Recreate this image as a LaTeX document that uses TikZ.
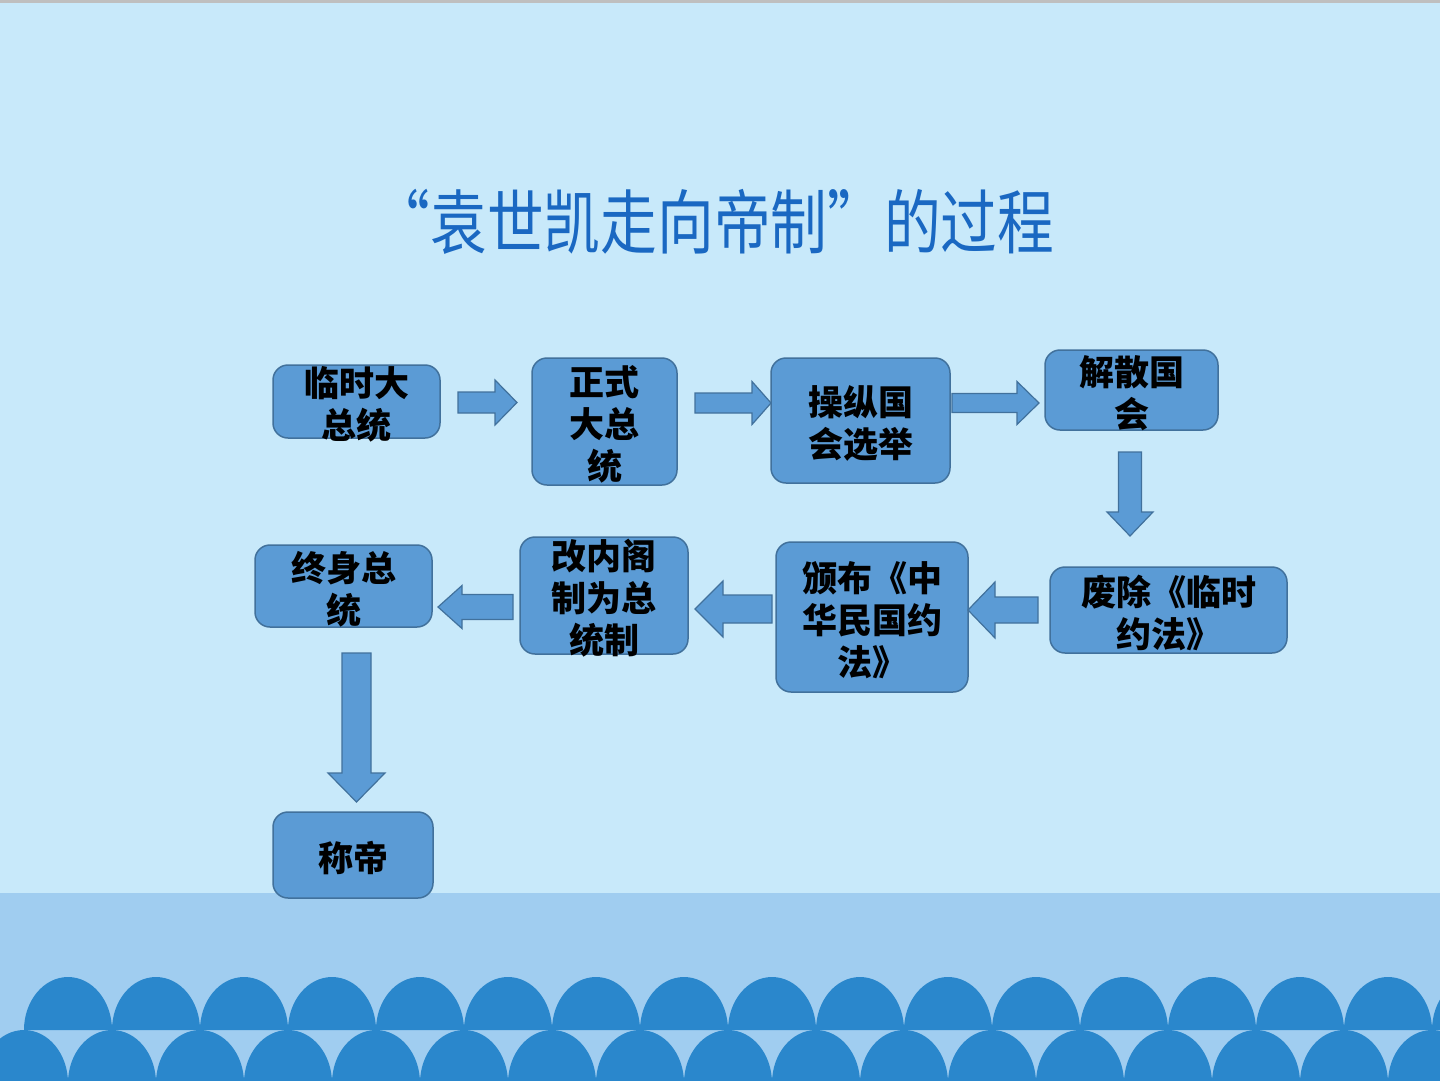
\documentclass[tikz,border=0pt]{standalone}
\usepackage{fontspec}
\newfontfamily\cjk{Noto Sans CJK SC}
\definecolor{bgtop}{HTML}{C8E9FA}
\definecolor{band}{HTML}{A0CDF0}
\definecolor{dome}{HTML}{2A87CC}
\definecolor{boxfill}{HTML}{5B9BD5}
\definecolor{boxline}{HTML}{41719C}
\definecolor{titleblue}{HTML}{1A68C2}
\tikzset{
  stepbox/.style={draw=boxline, fill=boxfill, line width=1.5pt, rounded corners=15pt, inner sep=0pt},
  boxtext/.style={align=center, inner sep=0pt, yshift=-3pt, font=\cjk\bfseries\fontsize{35}{42}\selectfont, text=black},
  blockarrow/.style={draw=boxline, fill=boxfill, line width=1.2pt, line join=miter},
}
\newcommand\blkH[6]{\draw[blockarrow] (#1,#4-#5) -- (#2,#4-#5) -- (#2,#4-#6) -- (#3,#4) -- (#2,#4+#6) -- (#2,#4+#5) -- (#1,#4+#5) -- cycle;}
\newcommand\blkV[6]{\draw[blockarrow] (#4-#5,#1) -- (#4-#5,#2) -- (#4-#6,#2) -- (#4,#3) -- (#4+#6,#2) -- (#4+#5,#2) -- (#4+#5,#1) -- cycle;}
\begin{document}
\begin{tikzpicture}[x=1pt,y=-1pt]
\useasboundingbox (0,0) rectangle (1440,1080);
% background
\fill[bgtop] (0,0) rectangle (1440,1080);
\fill[black!25] (0,0) rectangle (1440,2.5);
\fill[band] (0,893) rectangle (1440,1080);
% domes, upper row
\foreach \k in {0,...,16} {
  \fill[dome] ({68+88*\k-44},1030) arc[start angle=180, end angle=0, x radius=44pt, y radius=53pt] -- cycle;
}
% domes, lower row
\foreach \k in {0,...,16} {
  \fill[dome] ({24+88*\k-44},1083) arc[start angle=180, end angle=0, x radius=44pt, y radius=53pt] -- cycle;
}
% title
\node[inner sep=0pt, text=titleblue, font=\cjk\fontsize{70}{80}\selectfont] (title) at (714,222) {\scalebox{0.81}[1]{“袁世凯走向帝制”的过程}};
% boxes
\node[stepbox, minimum width=167pt, minimum height=73pt] (b1) at (356.5,401.5) {};
\node[stepbox, minimum width=145pt, minimum height=127pt] (b2) at (604.5,421.5) {};
\node[stepbox, minimum width=179pt, minimum height=125pt] (b3) at (860.5,420.5) {};
\node[stepbox, minimum width=173pt, minimum height=80pt] (b4) at (1131.5,390) {};
\node[stepbox, minimum width=237pt, minimum height=86pt] (b5) at (1168.5,610) {};
\node[stepbox, minimum width=192pt, minimum height=150pt] (b6) at (872,617) {};
\node[stepbox, minimum width=168pt, minimum height=117pt] (b7) at (604,595.5) {};
\node[stepbox, minimum width=177pt, minimum height=82pt] (b8) at (343.5,586) {};
\node[stepbox, minimum width=160pt, minimum height=86pt] (b9) at (353,855) {};
% texts
\node[boxtext] (t1) at (b1.center) {临时大\\总统};
\node[boxtext] (t2) at (b2.center) {正式\\大总\\统};
\node[boxtext] (t3) at (b3.center) {操纵国\\会选举};
\node[boxtext] (t4) at (b4.center) {解散国\\会};
\node[boxtext] (t5) at (b5.center) {废除《临时\\约法》};
\node[boxtext] (t6) at (b6.center) {颁布《中\\华民国约\\法》};
\node[boxtext] (t7) at (b7.center) {改内阁\\制为总\\统制};
\node[boxtext] (t8) at (b8.center) {终身总\\统};
\node[boxtext] (t9) at (b9.center) {称帝};
% block arrows
\blkH{458}{495}{517}{402.5}{10.5}{22.5}
\blkH{695}{752}{771}{403}{10}{21.5}
\blkH{952}{1017}{1039}{403}{9.5}{21.5}
\blkV{452}{512}{536}{1130}{11.5}{23}
\blkH{1038}{995}{968}{610}{13}{28}
\blkH{772}{723}{695}{609}{14}{28}
\blkH{513}{462}{438}{607}{12.5}{21.5}
\blkV{653}{773}{802}{356.5}{14.5}{28.5}
\end{tikzpicture}
\end{document}
